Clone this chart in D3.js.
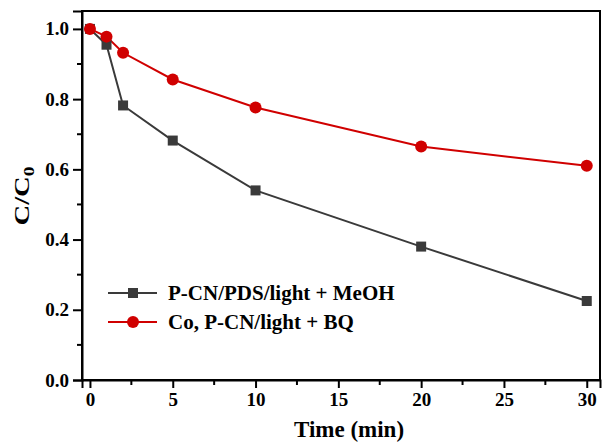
<!DOCTYPE html>
<html><head><meta charset="utf-8">
<script src="https://cdn.jsdelivr.net/npm/d3@7"></script>
<style>body{margin:0;background:#fff}</style>
</head><body>
<svg id="c" width="602" height="445"></svg>
<script>
const times = [0, 1, 2, 5, 10, 20, 30];
const meohValues = [1.0, 0.955, 0.782, 0.682, 0.54, 0.38, 0.225];
const bqValues = [1.0, 0.978, 0.932, 0.856, 0.776, 0.665, 0.61];
const seriesNames = ["P-CN/PDS/light + MeOH", "Co, P-CN/light + BQ"];
const xTicks = [0, 5, 10, 15, 20, 25, 30];
const yTicks = [0.0, 0.2, 0.4, 0.6, 0.8, 1.0];

const svg = d3.select("#c");
const L = 82, R = 600, T = 11, B = 380;
const x = d3.scaleLinear().domain([-0.48, 30.8]).range([L, R]);
const y = d3.scaleLinear().domain([0, 1.051]).range([B, T]);
const font = "Liberation Serif, Times New Roman, serif";

// frame
svg.append("rect").attr("x", L).attr("y", T).attr("width", R - L).attr("height", B - T)
  .attr("fill", "none").attr("stroke", "#000").attr("stroke-width", 2);

// x axis
const xa = svg.append("g").attr("transform", `translate(0,${B})`)
  .call(d3.axisBottom(x).tickValues(xTicks).tickFormat(d3.format("d")).tickSize(8).tickPadding(5));
xa.append("g").selectAll("line").data(d3.range(2.5, 30, 5)).join("line")
  .attr("x1", d => x(d)).attr("x2", d => x(d)).attr("y1", 0).attr("y2", 5)
  .attr("stroke", "#000").attr("stroke-width", 2);
// y axis
const ya = svg.append("g").attr("transform", `translate(${L},0)`)
  .call(d3.axisLeft(y).tickValues(yTicks).tickFormat(d3.format(".1f")).tickSize(9).tickPadding(4));
ya.append("g").selectAll("line").data(d3.range(0.1, 1.0, 0.2)).join("line")
  .attr("y1", d => y(d)).attr("y2", d => y(d)).attr("x1", 0).attr("x2", -5)
  .attr("stroke", "#000").attr("stroke-width", 2);
[xa, ya].forEach(a => {
  a.attr("font-family", font).attr("font-size", 19);
  a.select(".domain").attr("stroke-width", 2);
  a.selectAll(".tick line").attr("stroke-width", 2);
  a.selectAll("text").style("font-family", font).style("font-weight", "bold").style("font-size", "19px").attr("fill", "#000");
});

// titles
svg.append("text").attr("x", 349).attr("y", 437).attr("text-anchor", "middle")
  .style("font-family", font).style("font-weight", "bold").style("font-size", "23px").text("Time (min)");
const yl = svg.append("text").attr("transform", `translate(29,196) rotate(-90) scale(1.3,1)`)
  .attr("text-anchor", "middle").style("font-family", font).style("font-weight", "bold").style("font-size", "22px");
yl.append("tspan").text("C/C");
yl.append("tspan").style("font-size", "15px").attr("dy", 5).text("0");

const line = d3.line().x((d, i) => x(times[i])).y(d => y(d));
const colors = ["#3a3a3a", "#d00000"];

svg.append("path").datum(meohValues).attr("d", line).attr("fill", "none").attr("stroke", colors[0]).attr("stroke-width", 2);
svg.append("path").datum(bqValues).attr("d", line).attr("fill", "none").attr("stroke", colors[1]).attr("stroke-width", 2);
svg.append("g").selectAll("rect").data(meohValues).join("rect")
  .attr("x", (d, i) => x(times[i]) - 5).attr("y", d => y(d) - 5).attr("width", 10).attr("height", 10).attr("fill", colors[0]);
svg.append("g").selectAll("circle").data(bqValues).join("circle")
  .attr("cx", (d, i) => x(times[i])).attr("cy", d => y(d)).attr("r", 6).attr("fill", colors[1]);

// legend
const lg = svg.append("g");
seriesNames.forEach((name, i) => {
  const yy = 293 + i * 29;
  lg.append("line").attr("x1", 108).attr("x2", 157).attr("y1", yy).attr("y2", yy).attr("stroke", colors[i]).attr("stroke-width", 2);
  if (i === 0) lg.append("rect").attr("x", 128).attr("y", yy - 5).attr("width", 10).attr("height", 10).attr("fill", colors[i]);
  else lg.append("circle").attr("cx", 133).attr("cy", yy).attr("r", 6).attr("fill", colors[i]);
  lg.append("text").attr("x", 168).attr("y", yy + 7).style("font-family", font).style("font-weight", "bold")
    .style("font-size", "21px").text(name);
});
</script>
</body></html>
